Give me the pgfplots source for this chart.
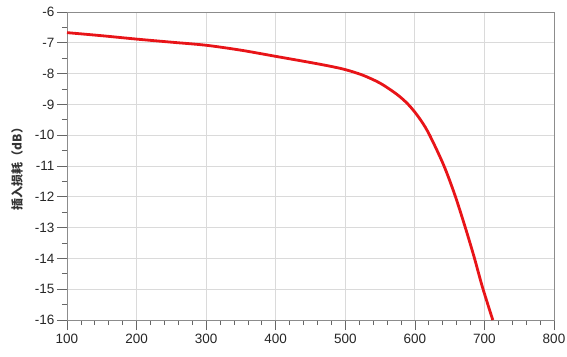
\documentclass[border=0pt]{standalone}
\usepackage{fontspec}
\setmainfont{Liberation Sans}
\newfontfamily\cjk{Noto Sans CJK SC}
\usepackage{pgfplots}
\pgfplotsset{compat=1.18}
\definecolor{gridc}{RGB}{218,218,218}
\definecolor{axc}{RGB}{140,140,140}
\definecolor{curve}{RGB}{232,20,24}
\begin{document}
\begin{tikzpicture}
\begin{axis}[
  scale only axis,
  width=487pt, height=308pt,
  xmin=100, xmax=800, ymin=-16, ymax=-6,
  xtick={100,200,...,800},
  ytick={-16,-15,...,-6},
  minor x tick num=4,
  minor y tick num=1,
  tick align=outside,
  major tick length=10pt,
  minor tick length=5pt,
  xtick pos=bottom, ytick pos=left,
  grid=major,
  major grid style={gridc, line width=0.9pt},
  axis line style={axc, line width=0.9pt},
  every tick/.style={black!60, line width=0.7pt},
  tick label style={font=\fontsize{13.5}{16}\selectfont, text=black!85},
  /pgf/number format/assume math mode=true,
  xticklabel style={yshift=-1pt},
  yticklabel style={xshift=1pt},
  ylabel={\cjk\bfseries 插入损耗（dB）},
  ylabel style={at={(axis description cs:0,0.5)}, anchor=center, yshift=50pt, font=\fontsize{12}{14}\selectfont, text=black!80},
]
\addplot[curve, line width=2.8pt, smooth, tension=0.5] coordinates {
(100,-6.67) (150,-6.77) (200,-6.88) (250,-6.98) (300,-7.08) (350,-7.24)
(400,-7.44) (450,-7.64) (478,-7.76) (500,-7.87) (525,-8.05) (550,-8.31)
(574,-8.67) (590,-8.99) (604,-9.37) (619,-9.90) (641,-10.95)
(657.5,-11.94) (672,-12.96) (685,-13.94) (697,-14.92) (712,-16.0)
};
\end{axis}
\pgfresetboundingbox
\path ([xshift=-67pt,yshift=-36pt]current axis.south west) rectangle ([xshift=13pt,yshift=12pt]current axis.north east);
\end{tikzpicture}
\end{document}
